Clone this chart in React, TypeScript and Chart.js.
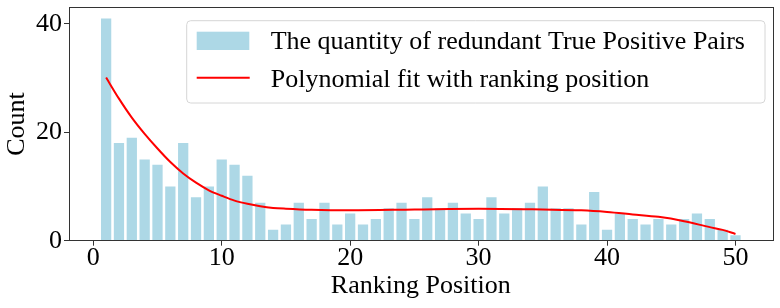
import React, { useEffect, useRef } from "react";
import { Chart, registerables } from "chart.js";

Chart.register(...registerables);

const POSITIONS = [1, 2, 3, 4, 5, 6, 7, 8, 9, 10, 11, 12, 13, 14, 15, 16, 17, 18, 19, 20, 21, 22, 23, 24, 25, 26, 27, 28, 29, 30, 31, 32, 33, 34, 35, 36, 37, 38, 39, 40, 41, 42, 43, 44, 45, 46, 47, 48, 49, 50];
const COUNTS = [41, 18, 19, 15, 14, 10, 18, 8, 10, 15, 14, 12, 7, 2, 3, 7, 4, 7, 3, 5, 3, 4, 6, 7, 4, 8, 6, 7, 5, 4, 8, 5, 6, 7, 10, 6, 6, 3, 9, 2, 5, 4, 3, 4, 3, 4, 5, 4, 2, 1];

const FIT_X = [1, 2, 3, 4, 5, 6, 7, 8, 9, 10, 11, 12, 13, 14, 15, 17, 20, 25, 30, 35, 38, 40, 42, 44, 46, 48, 49, 50];
const FIT_Y = [30.1, 26.2, 22.7, 19.7, 17.0, 14.5, 12.4, 10.7, 9.3, 8.3, 7.4, 6.8, 6.35, 6.05, 5.9, 5.7, 5.6, 5.75, 5.9, 5.75, 5.6, 5.3, 4.85, 4.4, 3.6, 2.5, 2.0, 1.25];

const X_TICKS = [0, 10, 20, 30, 40, 50];
const Y_TICKS = [0, 20, 40];

const BAR_LABEL = "The quantity of redundant True Positive Pairs";
const LINE_LABEL = "Polynomial fit with ranking position";

const FONT = "'Liberation Serif', 'Times New Roman', serif";

const framePlugin = {
  id: "frameAndLegend",
  afterDatasetsDraw(chart: any) {
    const { ctx, chartArea } = chart;
    ctx.save();
    ctx.strokeStyle = "#333";
    ctx.lineWidth = 1;
    ctx.strokeRect(
      Math.round(chartArea.left) + 0.5,
      Math.round(chartArea.top) + 0.5,
      Math.round(chartArea.right - chartArea.left),
      Math.round(chartArea.bottom - chartArea.top)
    );

    // legend
    const ds = chart.data.datasets;
    const barDs = ds.find((d: any) => d.type === "bar");
    const lineDs = ds.find((d: any) => d.type === "line");
    ctx.font = `26px ${FONT}`;
    const boxLeft = chartArea.left + 117.7;
    const boxTop = chartArea.top + 13.4;
    const boxH = 82.3;
    const boxW = 578.3;
    const r = 4;
    ctx.beginPath();
    ctx.moveTo(boxLeft + r, boxTop);
    ctx.lineTo(boxLeft + boxW - r, boxTop);
    ctx.quadraticCurveTo(boxLeft + boxW, boxTop, boxLeft + boxW, boxTop + r);
    ctx.lineTo(boxLeft + boxW, boxTop + boxH - r);
    ctx.quadraticCurveTo(boxLeft + boxW, boxTop + boxH, boxLeft + boxW - r, boxTop + boxH);
    ctx.lineTo(boxLeft + r, boxTop + boxH);
    ctx.quadraticCurveTo(boxLeft, boxTop + boxH, boxLeft, boxTop + boxH - r);
    ctx.lineTo(boxLeft, boxTop + r);
    ctx.quadraticCurveTo(boxLeft, boxTop, boxLeft + r, boxTop);
    ctx.closePath();
    ctx.fillStyle = "rgba(255,255,255,0.8)";
    ctx.fill();
    ctx.strokeStyle = "#d6d6d6";
    ctx.lineWidth = 1;
    ctx.stroke();

    const handleX = boxLeft + 10;
    ctx.fillStyle = barDs.backgroundColor;
    ctx.fillRect(handleX, boxTop + 11, 52.6, 18.3);
    ctx.strokeStyle = lineDs.borderColor;
    ctx.lineWidth = lineDs.borderWidth;
    ctx.beginPath();
    ctx.moveTo(handleX, boxTop + 57);
    ctx.lineTo(handleX + 53, boxTop + 57);
    ctx.stroke();

    ctx.fillStyle = "#000";
    ctx.textBaseline = "alphabetic";
    ctx.textAlign = "left";
    const textX = handleX + 74;
    ctx.fillText(barDs.label, textX, boxTop + 28.6);
    ctx.fillText(lineDs.label, textX, boxTop + 66.6);
    ctx.restore();
  },
};

export default function App() {
  const ref = useRef<HTMLCanvasElement | null>(null);
  useEffect(() => {
    document.body.style.margin = "0";
    if (!ref.current) return;
    const chart = new Chart(ref.current, {
      type: "bar",
      data: {
        datasets: [
          {
            type: "line",
            label: LINE_LABEL,
            data: FIT_X.map((x, i) => ({ x, y: FIT_Y[i] })),
            borderColor: "#ff0000",
            borderWidth: 2,
            pointRadius: 0,
            cubicInterpolationMode: "monotone",
            fill: false,
            order: 1,
          } as any,
          {
            type: "bar",
            label: BAR_LABEL,
            data: POSITIONS.map((x, i) => ({ x, y: COUNTS[i] })),
            backgroundColor: "#add8e6",
            barPercentage: 0.8,
            categoryPercentage: 1.0,
            order: 2,
          } as any,
        ],
      },
      options: {
        animation: false,
        responsive: false,
        devicePixelRatio: 1,
        layout: { padding: { top: 7.3, right: 7.4, left: 0, bottom: 0 } },
        plugins: {
          legend: { display: false },
          tooltip: { enabled: false },
        },
        scales: {
          x: {
            type: "linear",
            min: -1.89,
            max: 52.89,
            offset: false,
            afterBuildTicks: (scale: any) => {
              scale.ticks = X_TICKS.map((v) => ({ value: v }));
            },
            afterFit: (scale: any) => {
              scale.height = 67.3;
              scale.paddingLeft = 0;
              scale.paddingRight = 0;
            },
            grid: {
              offset: false,
              drawOnChartArea: false,
              drawTicks: true,
              tickLength: 5,
              color: "#333",
            },
            border: { display: false },
            ticks: {
              color: "#000",
              font: { family: FONT, size: 26 },
              padding: -3,
              maxRotation: 0,
              autoSkip: false,
            },
            title: {
              display: true,
              text: "Ranking Position",
              color: "#000",
              font: { family: FONT, size: 26 },
              padding: { top: 0, bottom: 6 },
            },
          },
          y: {
            type: "linear",
            min: 0,
            max: 43.05,
            afterBuildTicks: (scale: any) => {
              scale.ticks = Y_TICKS.map((v) => ({ value: v }));
            },
            afterFit: (scale: any) => {
              scale.width = 69;
              scale.paddingTop = 0;
              scale.paddingBottom = 0;
            },
            grid: {
              offset: false,
              drawOnChartArea: false,
              drawTicks: true,
              tickLength: 5,
              color: "#333",
            },
            border: { display: false },
            ticks: {
              color: "#000",
              font: { family: FONT, size: 26 },
              padding: 2,
              autoSkip: false,
            },
            title: {
              display: true,
              text: "Count",
              color: "#000",
              font: { family: FONT, size: 26 },
              padding: { top: 2, bottom: 0 },
            },
          },
        },
      } as any,
      plugins: [framePlugin],
    });
    return () => chart.destroy();
  }, []);

  return (
    <div style={{ position: "fixed", left: 0, top: 0, width: 780, height: 308, background: "#fff" }}>
      <canvas ref={ref} width={780} height={308} style={{ display: "block", width: 780, height: 308 }} />
    </div>
  );
}
